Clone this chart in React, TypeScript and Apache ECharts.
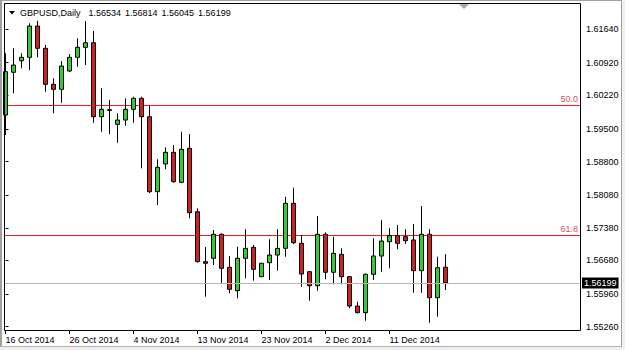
import React, { useEffect, useRef } from 'react';
import * as echarts from 'echarts';

const symbolName = 'GBPUSD,Daily';

const dates = [
  '16 Oct 2014', '17 Oct 2014', '19 Oct 2014', '20 Oct 2014', '21 Oct 2014', '22 Oct 2014', '23 Oct 2014', '24 Oct 2014',
  '26 Oct 2014', '27 Oct 2014', '28 Oct 2014', '29 Oct 2014', '30 Oct 2014', '31 Oct 2014', '2 Nov 2014', '3 Nov 2014',
  '4 Nov 2014', '5 Nov 2014', '6 Nov 2014', '7 Nov 2014', '9 Nov 2014', '10 Nov 2014', '11 Nov 2014', '12 Nov 2014',
  '13 Nov 2014', '14 Nov 2014', '16 Nov 2014', '17 Nov 2014', '18 Nov 2014', '19 Nov 2014', '20 Nov 2014', '21 Nov 2014',
  '23 Nov 2014', '24 Nov 2014', '25 Nov 2014', '26 Nov 2014', '27 Nov 2014', '28 Nov 2014', '30 Nov 2014', '1 Dec 2014',
  '2 Dec 2014', '3 Dec 2014', '4 Dec 2014', '5 Dec 2014', '7 Dec 2014', '8 Dec 2014', '9 Dec 2014', '10 Dec 2014',
  '11 Dec 2014', '12 Dec 2014', '14 Dec 2014', '15 Dec 2014', '16 Dec 2014', '17 Dec 2014', '18 Dec 2014', '19 Dec 2014',
];

const opens = [
  1.59797, 1.60712, 1.60960, 1.61033, 1.61704, 1.61226, 1.60455, 1.60347,
  1.60740, 1.61033, 1.61247, 1.61346, 1.59760, 1.59910, 1.59597, 1.59689,
  1.59919, 1.60154, 1.59760, 1.58153, 1.58747, 1.58997, 1.58354, 1.59083,
  1.57724, 1.56653, 1.56726, 1.57240, 1.56533, 1.56031, 1.56726, 1.56961,
  1.56331, 1.56632, 1.56796, 1.56940, 1.57904, 1.57047, 1.56439, 1.56138,
  1.57240, 1.56426, 1.56811, 1.56331, 1.55703, 1.55560, 1.56383, 1.56775,
  1.57081, 1.57210, 1.57189, 1.57118, 1.56460, 1.57240, 1.55881, 1.56534,
];
const closes = [
  1.60725, 1.60868, 1.61033, 1.61704, 1.61226, 1.60455, 1.60347, 1.60847,
  1.61033, 1.61247, 1.61346, 1.59760, 1.59919, 1.59896, 1.59689, 1.59919,
  1.60154, 1.59760, 1.58153, 1.58676, 1.58997, 1.58367, 1.59062, 1.57703,
  1.56653, 1.56619, 1.57240, 1.56511, 1.56061, 1.56726, 1.56940, 1.56490,
  1.56619, 1.56796, 1.56940, 1.57904, 1.57060, 1.56389, 1.56138, 1.57240,
  1.56426, 1.56833, 1.56331, 1.55703, 1.55560, 1.56383, 1.56775, 1.57096,
  1.57210, 1.57047, 1.57103, 1.56460, 1.57240, 1.55881, 1.56524, 1.56199,
];
const lows = [
  1.59368, 1.60262, 1.60797, 1.60761, 1.61033, 1.60296, 1.59833, 1.60060,
  1.60718, 1.60832, 1.60868, 1.59632, 1.59439, 1.59389, 1.59203, 1.59567,
  1.59632, 1.58654, 1.58125, 1.57868, 1.58633, 1.58346, 1.58333, 1.57583,
  1.56636, 1.55903, 1.56582, 1.56190, 1.55976, 1.55868, 1.56297, 1.56246,
  1.56325, 1.56261, 1.56460, 1.56760, 1.57032, 1.56117, 1.55817, 1.56031,
  1.56276, 1.56169, 1.56169, 1.55654, 1.55547, 1.55388, 1.56261, 1.56439,
  1.56511, 1.56919, 1.57032, 1.55988, 1.55988, 1.55346, 1.55474, 1.56045,
];
const highs = [
  1.61119, 1.61226, 1.61119, 1.61762, 1.61817, 1.61297, 1.60583, 1.60954,
  1.61104, 1.61440, 1.61811, 1.61597, 1.60369, 1.60118, 1.59833, 1.60154,
  1.60189, 1.60189, 1.59989, 1.58847, 1.59104, 1.59154, 1.59439, 1.59389,
  1.57797, 1.56968, 1.57332, 1.57260, 1.56775, 1.56974, 1.57347, 1.57011,
  1.56626, 1.57133, 1.57347, 1.58046, 1.58239, 1.57225, 1.56450, 1.57632,
  1.57283, 1.57189, 1.56940, 1.56340, 1.55796, 1.56404, 1.57154, 1.57546,
  1.57369, 1.57439, 1.57347, 1.57461, 1.57846, 1.57347, 1.56760, 1.56814,
];

const yTicks = [1.5526, 1.5596, 1.5668, 1.5738, 1.5808, 1.588, 1.595, 1.6022, 1.6092, 1.6164];
const xTickIndex = [0, 8, 16, 24, 32, 40, 48];
const fibLabels = ['50.0', '61.8'];
const fibPrices = [1.60001, 1.57214];

const Y_MIN = 1.55189;
const Y_MAX = 1.62176;
const X_MIN = -0.1875;
const X_MAX = 71.8125;

const FONT = '"Liberation Sans", Arial, sans-serif';

export default function App() {
  const ref = useRef<HTMLDivElement>(null);

  useEffect(() => {
    if (!ref.current) return;
    const chart = echarts.init(ref.current, null, { renderer: 'svg' });
    const last = dates.length - 1;
    const f5 = (v: number) => v.toFixed(5);
    const candleData = dates.map((_, i) => [i, opens[i], closes[i], lows[i], highs[i]]);

    const fibSeries = fibPrices.map((p, k) => ({
      type: 'line',
      data: [[X_MIN, p], [X_MAX, p]],
      z: 2,
      silent: true,
      showSymbol: false,
      symbol: 'none',
      color: '#e61e1e',
      lineStyle: { color: '#e61e1e', width: 1, type: 'solid' },
      endLabel: {
        show: true,
        formatter: () => fibLabels[k],
        align: 'right',
        verticalAlign: 'bottom',
        distance: 0,
        offset: [-2, -2],
        color: '#e0506a',
        fontSize: 9,
        fontFamily: FONT,
      },
    }));

    const option: any = {
      animation: false,
      backgroundColor: '#ffffff',
      textStyle: { fontFamily: FONT },
      title: {
        left: 20,
        top: 8,
        padding: 0,
        text: `{n|${symbolName}}{a|${f5(opens[last])}}{b|${f5(highs[last])}}{b|${f5(lows[last])}}{b|${f5(closes[last])}}`,
        textStyle: {
          fontSize: 9,
          fontWeight: 'normal',
          color: '#000',
          fontFamily: FONT,
          rich: {
            n: { fontSize: 9, color: '#000', fontFamily: FONT },
            a: { fontSize: 9, color: '#000', fontFamily: FONT, padding: [0, 0, 0, 8] },
            b: { fontSize: 9, color: '#000', fontFamily: FONT, padding: [0, 0, 0, 4] },
          },
        },
      },
      grid: { left: 4, top: 4, width: 576, height: 326, containLabel: false },
      xAxis: {
        type: 'value',
        min: X_MIN,
        max: X_MAX,
        axisLine: { show: false },
        splitLine: { show: false },
        axisTick: {
          show: true,
          customValues: xTickIndex,
          length: 4,
          lineStyle: { color: '#000' },
        },
        axisLabel: {
          customValues: xTickIndex,
          formatter: (v: number) => dates[Math.round(v)] ?? '',
          align: 'left',
          margin: 5,
          fontSize: 9,
          color: '#000',
          fontFamily: FONT,
        },
      },
      yAxis: {
        type: 'value',
        position: 'right',
        min: Y_MIN,
        max: Y_MAX,
        scale: true,
        axisLine: { show: false },
        splitLine: { show: false },
        axisTick: {
          show: true,
          customValues: yTicks,
          length: 3,
          lineStyle: { color: '#000' },
        },
        axisLabel: {
          customValues: yTicks,
          formatter: (v: number) => v.toFixed(5),
          margin: 6,
          fontSize: 9,
          color: '#000',
          fontFamily: FONT,
        },
      },
      series: [
        {
          type: 'candlestick',
          data: candleData,
          barWidth: 5,
          clip: true,
          z: 3,
          itemStyle: {
            color: '#33cc33',
            color0: '#cc2222',
            borderColor: '#000',
            borderColor0: '#000',
            borderColorDoji: '#000',
            borderWidth: 1,
          },
        },
        ...fibSeries,
        {
          type: 'line',
          data: [],
          z: 2,
          color: '#b8b8b8',
          markLine: {
            silent: true,
            symbol: ['none', 'none'],
            precision: 5,
            animation: false,
            lineStyle: { color: '#b8b8b8', width: 1, type: 'solid' },
            data: [
              {
                yAxis: closes[last],
                label: {
                  show: true,
                  position: 'end',
                  formatter: f5(closes[last]),
                  color: '#fff',
                  backgroundColor: '#000',
                  padding: [1, 2, 1, 2],
                  distance: 2,
                  fontSize: 9,
                  fontFamily: FONT,
                },
              },
            ],
          },
        },
      ],
      graphic: [
        { type: 'rect', shape: { x: 4.5, y: 3.5, width: 576, height: 327 }, style: { fill: 'none', stroke: '#000', lineWidth: 1 }, z: 50 },
        { type: 'polygon', shape: { points: [[9, 11], [15, 11], [12, 14.5]] }, style: { fill: '#000' }, z: 50 },
        { type: 'polygon', shape: { points: [[459, 4], [469, 4], [464, 9]] }, style: { fill: '#a8a8a8' }, z: 50 },
        { type: 'rect', shape: { x: 0, y: 0, width: 2, height: 350 }, style: { fill: '#a0a0a0' }, z: 60 },
        { type: 'rect', shape: { x: 0, y: 0, width: 625, height: 1 }, style: { fill: '#a0a0a0' }, z: 60 },
        { type: 'rect', shape: { x: 621, y: 0, width: 1, height: 347 }, style: { fill: '#a0a0a0' }, z: 60 },
        { type: 'rect', shape: { x: 0, y: 346, width: 622, height: 1 }, style: { fill: '#b0b0b0' }, z: 60 },
        { type: 'rect', shape: { x: 622, y: 0, width: 3, height: 350 }, style: { fill: '#f0f0f0' }, z: 60 },
        { type: 'rect', shape: { x: 0, y: 347, width: 625, height: 3 }, style: { fill: '#f0f0f0' }, z: 60 },
      ],
    };

    chart.setOption(option);
    return () => chart.dispose();
  }, []);

  return (
    <div
      ref={ref}
      style={{ position: 'fixed', left: 0, top: 0, width: 625, height: 350, background: '#fff' }}
    />
  );
}
